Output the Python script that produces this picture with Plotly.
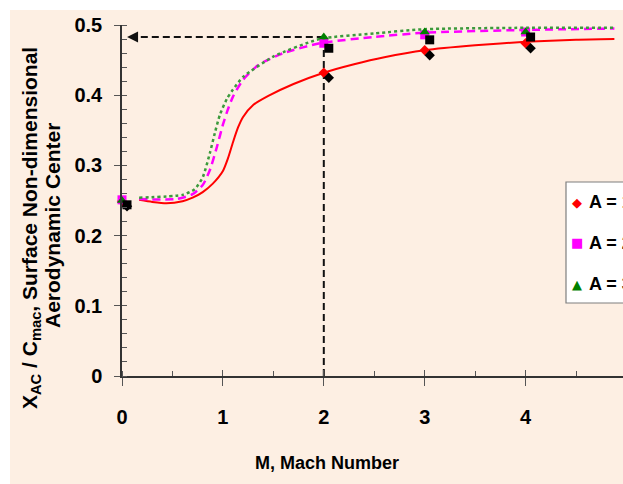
import plotly.graph_objects as go

# ---------------- data ----------------
# smooth model curves (Mach number vs x_ac / c_mac)
a1_curve_m = [0.17, 0.30, 0.44, 0.60, 0.70, 0.80, 0.90, 1.00, 1.05, 1.10, 1.15, 1.20, 1.30, 1.45, 1.70, 2.00, 2.30, 2.60, 3.00, 3.50, 4.00, 4.50, 4.88]
a1_curve_x = [0.251, 0.248, 0.246, 0.249, 0.254, 0.262, 0.274, 0.292, 0.310, 0.333, 0.354, 0.369, 0.386, 0.399, 0.416, 0.432, 0.444, 0.454, 0.464, 0.471, 0.476, 0.479, 0.480]

a2_curve_m = [0.17, 0.54, 0.70, 0.80, 0.87, 0.94, 1.00, 1.05, 1.10, 1.20, 1.35, 1.60, 1.96, 2.50, 3.00, 4.00, 4.88]
a2_curve_x = [0.252, 0.252, 0.259, 0.272, 0.293, 0.326, 0.358, 0.380, 0.398, 0.422, 0.443, 0.460, 0.474, 0.483, 0.489, 0.493, 0.495]

a3_curve_m = [0.17, 0.60, 0.72, 0.80, 0.87, 0.92, 0.97, 1.04, 1.10, 1.20, 1.50, 1.96, 2.50, 3.00, 4.00, 4.88]
a3_curve_x = [0.254, 0.258, 0.266, 0.283, 0.317, 0.346, 0.372, 0.395, 0.408, 0.426, 0.455, 0.480, 0.488, 0.494, 0.496, 0.496]

# discrete points
pts_m = [0, 2, 3, 4, 5]
a1_pts = [0.249, 0.432, 0.464, 0.474, 0.480]
a2_pts = [0.251, 0.474, 0.486, 0.490, 0.493]
a3_pts = [0.250, 0.483, 0.490, 0.490, 0.494]

# read-off guide (M = 2)
guide_m = 2
guide_x = 0.483

series_names = ["A = 1", "A = 2", "A = 3"]
x_ticks = [0, 1, 2, 3, 4]

# ---------------- style ----------------
PEACH = "#FDEFE3"
RED = "#FF0000"
MAG = "#FF00FF"
GREEN_M = "#008000"
GREEN_L = "#3C9A3C"
ARIAL = "Liberation Sans, Arial, sans-serif"

W, H = 623, 484
ML, MR, MT, MB = 122, 0, 25, 108
PW, PH = W - ML - MR, H - MT - MB
XPX = 100.9          # px per Mach unit
YPX = PH / 0.5       # px per unit of y
XMAX = PW / XPX
SH = 5               # shadow offset in px

fig = go.Figure()

def shadow(xs, ys, sym, size):
    fig.add_trace(go.Scatter(x=xs, y=ys, mode="markers", xaxis="x3", yaxis="y3",
                             marker=dict(symbol=sym, size=size, color="#000000"),
                             showlegend=False, cliponaxis=False, hoverinfo="skip"))

# A = 1
shadow(pts_m, a1_pts, "diamond", 8)
fig.add_trace(go.Scatter(x=a1_curve_m, y=a1_curve_x, mode="lines",
                         line=dict(color=RED, width=2, shape="spline", smoothing=0.6), showlegend=False))
fig.add_trace(go.Scatter(x=pts_m, y=a1_pts, mode="markers", name=series_names[0],
                         marker=dict(symbol="diamond", size=8, color=RED), cliponaxis=False, showlegend=False))
# A = 2
shadow(pts_m, a2_pts, "square", 9)
fig.add_trace(go.Scatter(x=a2_curve_m, y=a2_curve_x, mode="lines",
                         line=dict(color=MAG, width=2.5, dash="8px,5px", shape="spline", smoothing=0.6), showlegend=False))
fig.add_trace(go.Scatter(x=pts_m, y=a2_pts, mode="markers", name=series_names[1],
                         marker=dict(symbol="square", size=9, color=MAG), cliponaxis=False, showlegend=False))
# A = 3
fig.add_trace(go.Scatter(x=a3_curve_m, y=a3_curve_x, mode="lines",
                         line=dict(color=GREEN_L, width=2.5, dash="dot", shape="spline", smoothing=0.6), showlegend=False))
fig.add_trace(go.Scatter(x=pts_m, y=a3_pts, mode="markers", name=series_names[2],
                         marker=dict(symbol="triangle-up", size=9, color=GREEN_M), cliponaxis=False, showlegend=False))

def px2paper_x(px):
    return (px - ML) / PW

def px2paper_y(py):
    return (MT + PH - py) / PH

shapes = [
    # peach chart area
    dict(type="rect", xref="paper", yref="paper", x0=px2paper_x(10), x1=px2paper_x(W + 5),
         y0=px2paper_y(H + 5), y1=px2paper_y(10), fillcolor=PEACH, line=dict(width=0), layer="below"),
    # guide lines
    dict(type="line", xref="x", yref="y", x0=guide_m, x1=guide_m, y0=0, y1=guide_x,
         line=dict(color="#111111", width=2, dash="7px,4px"), layer="below"),
    dict(type="line", xref="x", yref="y", x0=guide_m, x1=0.09, y0=guide_x, y1=guide_x,
         line=dict(color="#111111", width=2, dash="7px,4px"), layer="below"),
    # legend box
    dict(type="rect", xref="paper", yref="paper", x0=px2paper_x(566), x1=px2paper_x(660),
         y0=px2paper_y(303), y1=px2paper_y(182), fillcolor="#FFFFFF",
         line=dict(color="#7F7F7F", width=1.2), layer="above"),
]

title_font = dict(family=ARIAL, size=21, color="#000000", weight="bold")
annotations = [
    # arrow head of guide
    dict(x=0.05, y=guide_x, xref="x", yref="y", ax=12, ay=0, showarrow=True, arrowhead=2,
         arrowsize=1.1, arrowwidth=2, arrowcolor="#111111", text=""),
    # y title (two lines)
    dict(x=px2paper_x(31), y=px2paper_y(228), xref="paper", yref="paper", showarrow=False, textangle=-90,
         text="X<sub>AC</sub> / C<sub>mac</sub>, Surface Non-dimensional",
         font=title_font, xanchor="center", yanchor="middle"),
    dict(x=px2paper_x(52), y=px2paper_y(226), xref="paper", yref="paper", showarrow=False, textangle=-90,
         text="Aerodynamic Center",
         font=title_font, xanchor="center", yanchor="middle"),
    # x title
    dict(x=px2paper_x(327), y=px2paper_y(463), xref="paper", yref="paper", showarrow=False,
         text="M, Mach Number", font=dict(family=ARIAL, size=18, color="#000000", weight="bold"),
         xanchor="center", yanchor="middle"),
]

leg_syms = ["◆", "■", "▲"]
leg_cols = [RED, MAG, GREEN_M]
leg_py = [202, 243, 284]
for name, s, c, py in zip(series_names, leg_syms, leg_cols, leg_py):
    annotations.append(dict(x=px2paper_x(577), y=px2paper_y(py), xref="paper", yref="paper", showarrow=False,
                            text=s, font=dict(family="DejaVu Sans", size=13, color=c),
                            xanchor="center", yanchor="middle"))
    annotations.append(dict(x=px2paper_x(587), y=px2paper_y(py), xref="paper", yref="paper", showarrow=False,
                            text=name, font=dict(family=ARIAL, size=18, color="#000000", weight="bold"),
                            xanchor="left", yanchor="middle"))

tickfont = dict(family=ARIAL, size=20, color="#000000", weight="bold")

fig.update_layout(
    width=W, height=H,
    margin=dict(l=ML, r=MR, t=MT, b=MB, pad=0, autoexpand=False),
    paper_bgcolor="#FFFFFF", plot_bgcolor="rgba(0,0,0,0)",
    showlegend=False,
    shapes=shapes, annotations=annotations,
    xaxis=dict(range=[0, XMAX], tickvals=x_ticks, ticks="outside", ticklen=8, tickwidth=1.2, tickcolor="#555555",
               showline=True, linecolor="#333333", linewidth=1.5, showgrid=False, zeroline=False,
               tickfont=tickfont, ticklabelstandoff=14, automargin=False,
               minor=dict(dtick=0.5, ticks="inside", ticklen=5, tickwidth=1.2, tickcolor="#555555", showgrid=False)),
    yaxis=dict(range=[0, 0.5], dtick=0.1, ticks="outside", ticklen=6, tickwidth=1.2, tickcolor="#555555",
               showline=True, linecolor="#333333", linewidth=1.5, showgrid=False, zeroline=False,
               tickfont=tickfont, ticklabelstandoff=8, automargin=False,
               minor=dict(dtick=0.02, ticks="inside", ticklen=5, tickwidth=1.2, tickcolor="#555555", showgrid=False)),
    # overlay axes giving the inner half of the major ticks
    xaxis2=dict(range=[0, XMAX], overlaying="x", anchor="y", tickvals=x_ticks, ticks="inside", ticklen=6,
                tickwidth=1.2, tickcolor="#555555", showticklabels=False, showgrid=False, zeroline=False, showline=False),
    yaxis2=dict(range=[0, 0.5], overlaying="y", anchor="x", dtick=0.1, ticks="inside", ticklen=5,
                tickwidth=1.2, tickcolor="#555555", showticklabels=False, showgrid=False, zeroline=False, showline=False),
    # shifted axes for marker shadows
    xaxis3=dict(range=[-SH / XPX, XMAX - SH / XPX], overlaying="x", visible=False),
    yaxis3=dict(range=[SH / YPX, 0.5 + SH / YPX], overlaying="y", visible=False),
)

# dummy trace to activate overlay tick axes
fig.add_trace(go.Scatter(x=[None], y=[None], xaxis="x2", yaxis="y2", showlegend=False, hoverinfo="skip"))

fig.write_html("out.html", config={"displayModeBar": False},
               post_script="document.body.style.margin='0';document.body.style.overflow='hidden';")
